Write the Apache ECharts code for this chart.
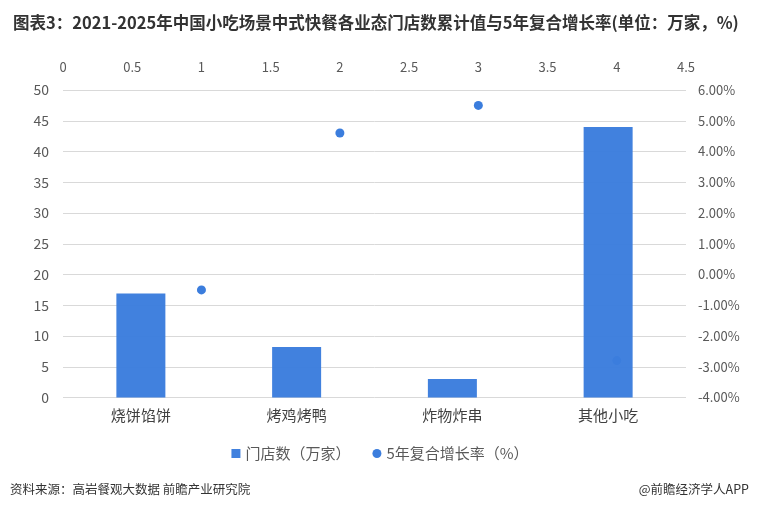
<!DOCTYPE html>
<html><head><meta charset="utf-8">
<script src="https://cdn.jsdelivr.net/npm/echarts@6/dist/echarts.min.js"></script>
<style>html,body{margin:0;padding:0;background:#fff}#c{width:760px;height:505px}</style>
</head><body><div id="c"></div>
<script>
const categories = ['烧饼馅饼', '烤鸡烤鸭', '炸物炸串', '其他小吃'];
const storeCounts = [16.9, 8.2, 3.0, 44.0];
const growthX = [1, 2, 3, 4];
const growthRates = [-0.5, 4.6, 5.5, -2.8];
const topTicks = [0, 0.5, 1, 1.5, 2, 2.5, 3, 3.5, 4, 4.5];
const seriesNames = ['门店数（万家）', '5年复合增长率（%）'];

const blue = '#3b7ddd';
const font = '"Noto Sans CJK SC", "Noto Sans", sans-serif';
const chart = echarts.init(document.getElementById('c'), null, {renderer: 'canvas'});
chart.setOption({
  backgroundColor: '#fff',
  animation: false,
  title: [{
    text: '图表3：2021-2025年中国小吃场景中式快餐各业态门店数累计值与5年复合增长率(单位：万家，%)',
    left: 8, top: 9,
    textStyle: {fontFamily: font, fontSize: 16.5, fontWeight: 'bold', color: '#333'}
  }, {
    text: '资料来源：高岩餐观大数据 前瞻产业研究院',
    left: 5, top: 478,
    textStyle: {fontFamily: font, fontSize: 12.5, fontWeight: 'normal', color: '#333'}
  }, {
    text: '@前瞻经济学人APP',
    right: 6, top: 478,
    textStyle: {fontFamily: font, fontSize: 12.5, fontWeight: 'normal', color: '#333'}
  }],
  legend: {
    data: [{name: seriesNames[0], icon: 'rect'}, {name: seriesNames[1], icon: 'circle'}],
    left: 'center', top: 441,
    itemWidth: 9, itemHeight: 9, itemGap: 22,
    textStyle: {fontFamily: font, fontSize: 15, color: '#595959'}
  },
  grid: {left: 63, right: 74, top: 90, bottom: 107.5, containLabel: false},
  xAxis: [{
    type: 'category', data: categories, position: 'bottom',
    axisLine: {show: false}, axisTick: {show: false},
    axisLabel: {fontFamily: font, fontSize: 15, color: '#404040', margin: 10}
  }, {
    type: 'value', position: 'top', min: topTicks[0], max: topTicks[topTicks.length - 1], interval: 0.5,
    axisLine: {show: false}, axisTick: {show: false}, splitLine: {show: false},
    axisLabel: {fontFamily: font, fontSize: 13, color: '#595959', margin: 16}
  }],
  yAxis: [{
    type: 'value', min: 0, max: 50, interval: 5,
    axisLine: {show: false}, axisTick: {show: false},
    splitLine: {lineStyle: {color: '#d9d9d9'}},
    axisLabel: {fontFamily: font, fontSize: 14, color: '#595959', margin: 14}
  }, {
    type: 'value', min: -4, max: 6, interval: 1, position: 'right',
    axisLine: {show: false}, axisTick: {show: false}, splitLine: {show: false},
    axisLabel: {fontFamily: font, fontSize: 13, color: '#595959', margin: 12,
      formatter: v => v.toFixed(2) + '%'}
  }],
  series: [{
    name: seriesNames[0], type: 'bar', xAxisIndex: 0, yAxisIndex: 0,
    data: storeCounts, barWidth: 49, z: 3,
    itemStyle: {color: blue, opacity: 0.97}
  }, {
    name: seriesNames[1], type: 'scatter', xAxisIndex: 1, yAxisIndex: 1,
    data: growthX.map((x, i) => [x, growthRates[i]]), symbolSize: 9, z: 2,
    itemStyle: {color: blue, opacity: 1}
  }]
});
</script></body></html>
